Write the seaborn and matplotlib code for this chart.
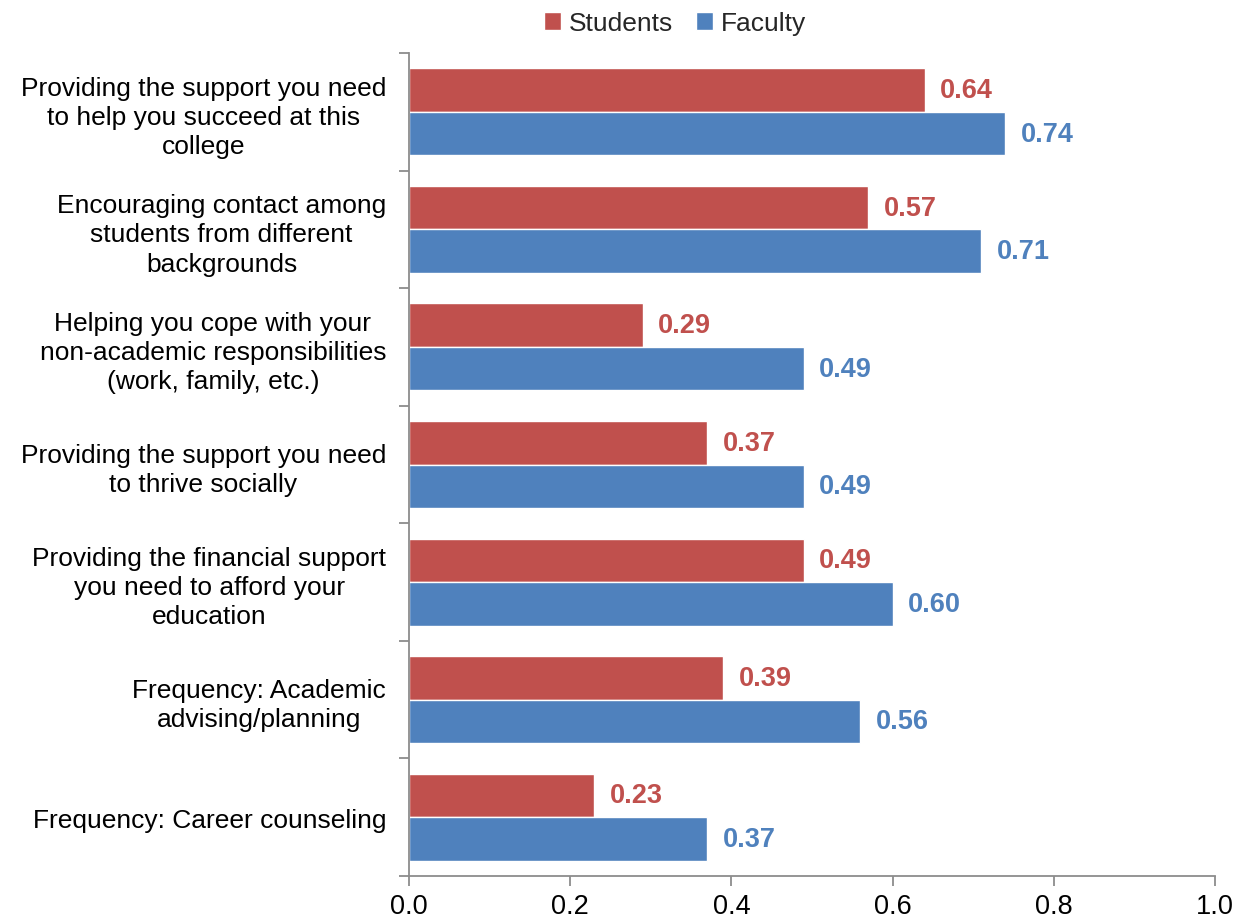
import matplotlib
matplotlib.use("Agg")
import matplotlib.pyplot as plt
from matplotlib.ticker import FixedLocator
import seaborn as sns
import pandas as pd
import numpy as np

categories = [
    "Providing the support you need\nto help you succeed at this\ncollege",
    "Encouraging contact among\nstudents from different\nbackgrounds",
    "Helping you cope with your\nnon-academic responsibilities\n(work, family, etc.)",
    "Providing the support you need\nto thrive socially",
    "Providing the financial support\nyou need to afford your\neducation",
    "Frequency: Academic\nadvising/planning",
    "Frequency: Career counseling",
]
students = [0.64, 0.57, 0.29, 0.37, 0.49, 0.39, 0.23]
faculty = [0.74, 0.71, 0.49, 0.49, 0.60, 0.56, 0.37]
series = ["Students", "Faculty"]
colors = ["#C0504D", "#4F81BD"]
x_ticks = [0.0, 0.2, 0.4, 0.6, 0.8, 1.0]

df = pd.DataFrame({
    "category": categories * 2,
    "group": ["Students"] * len(categories) + ["Faculty"] * len(categories),
    "value": students + faculty,
})

sns.set_theme(style="white")
plt.rcParams["font.family"] = ["Liberation Sans", "DejaVu Sans"]

fig = plt.figure(figsize=(12.44, 9.2), dpi=100)
ax = fig.add_axes([0.3288, 0.0467, 0.6479, 0.8946])

sns.barplot(data=df, y="category", x="value", hue="group", order=categories,
            hue_order=series, palette=colors, orient="h", width=0.74,
            saturation=1, gap=0, ax=ax, legend=True)

ax.set_xlim(0, 1.0)
ax.set_ylim(len(categories) - 0.5, -0.5)
ax.set_xlabel("")
ax.set_ylabel("")

# value labels beside each bar
for cont, col in zip(ax.containers, colors):
    labels = [f"{v:.2f}" for v in cont.datavalues]
    ax.bar_label(cont, labels=labels, padding=11, color=col,
                 fontsize=19.5, fontweight="bold")

# axes styling
for s in ["top", "right"]:
    ax.spines[s].set_visible(False)
for s in ["left", "bottom"]:
    ax.spines[s].set_color("#8C8C8C")
    ax.spines[s].set_linewidth(1.3)

ax.set_xticks(x_ticks)
ax.set_xticklabels([f"{t:.1f}" for t in x_ticks], fontsize=19.5, color="black")
ax.tick_params(axis="x", direction="out", length=7, width=1.3,
               color="#8C8C8C", pad=5, bottom=True)

ax.set_yticks(range(len(categories)))
ax.set_yticklabels(categories, fontsize=19, color="black",
                   multialignment="center", linespacing=1.27)
ax.tick_params(axis="y", which="major", length=0, pad=16.5)
ax.yaxis.set_minor_locator(FixedLocator(np.arange(-0.5, len(categories), 1.0)))
ax.tick_params(axis="y", which="minor", direction="out", length=7, width=1.3,
               color="#8C8C8C", left=True)

leg = ax.legend(loc="upper center", ncol=2, frameon=False,
                fontsize=19, handlelength=0.65, handleheight=0.65,
                handletextpad=0.3, columnspacing=0.85, borderaxespad=0.0)
leg.set_bbox_to_anchor((0.5425, 0.998), transform=fig.transFigure)

fig.savefig("out.png", dpi=100, facecolor="white")
